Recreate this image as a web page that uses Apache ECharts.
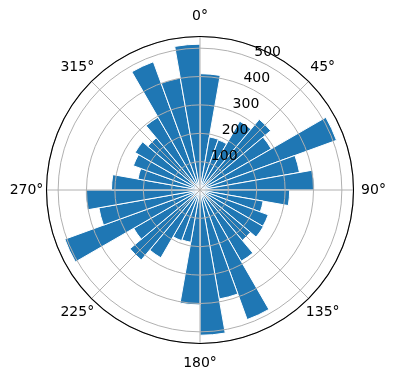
<!DOCTYPE html>
<html>
<head>
<meta charset="utf-8">
<script src="https://cdn.jsdelivr.net/npm/echarts@6/dist/echarts.min.js"></script>
<style>
html,body{margin:0;padding:0;background:#fff;}
#chart{width:396px;height:380px;}
</style>
</head>
<body>
<div id="chart"></div>
<script>
// 36 sectors of 10 degrees, clockwise from north
var sectors = [];
for (var i = 0; i < 36; i++) sectors.push(i * 10);
var counts = [410, 190, 188, 280, 325, 290, 512, 356, 403,
              316, 226, 256, 258, 232, 290, 486, 390, 512,
              405, 187, 190, 276, 322, 270, 507, 362, 403,
              312, 222, 250, 264, 240, 296, 481, 401, 514];
var radialTicks = [100, 200, 300, 400, 500];
var angleTicks = [0, 45, 90, 135, 180, 225, 270, 315];
var rMax = 541;

var font = "DejaVu Sans";
var grid = '#b0b0b0';

// echarts anchors angle labels by side; fixed boxes keep the text centred like matplotlib
function angleLabel(v) {
	if (angleTicks.indexOf(v) < 0) return '';
	var key = (v % 180 === 0) ? 'tb' : (v % 90 === 0 ? 'lr' : 'dg');
	return '{' + key + '|' + v + '°}';
}

var myChart = echarts.init(document.getElementById('chart'));
var option = {
	animation: false,
	polar: [
		{center: [200, 190], radius: 153.5},
		{center: [200, 190], radius: 153.5},
		{center: [200, 190], radius: 153.5}
	],
	angleAxis: [
		// bars
		{polarIndex: 0, type: 'category', data: sectors, startAngle: 90, clockwise: true, boundaryGap: true, show: false},
		// grid, outline and degree labels
		{
			polarIndex: 1, type: 'value', min: 0, max: 360, interval: 45, startAngle: 90, clockwise: true, z: 10,
			axisLine: {show: true, lineStyle: {color: '#000', width: 1.1}},
			axisTick: {show: false},
			splitLine: {show: true, lineStyle: {color: grid, width: 1}},
			axisLabel: {
				margin: -8,
				fontFamily: font, fontSize: 14, color: '#000',
				formatter: angleLabel,
				rich: {
					tb: {lineHeight: 56, align: 'center', fontFamily: font, fontSize: 14},
					lr: {width: 56, align: 'center', fontFamily: font, fontSize: 14},
					dg: {width: 39.6, lineHeight: 39.6, align: 'center', fontFamily: font, fontSize: 14}
				}
			}
		},
		// only carries the radial labels at 22.5 deg
		{polarIndex: 2, type: 'value', min: 0, max: 360, startAngle: 67.5, clockwise: true, show: false}
	],
	radiusAxis: [
		{polarIndex: 0, type: 'value', min: 0, max: rMax, show: false},
		{
			polarIndex: 1, type: 'value', min: 0, max: rMax, interval: 100, z: 10,
			axisLine: {show: false}, axisTick: {show: false}, axisLabel: {show: false},
			splitLine: {show: true, lineStyle: {color: grid, width: 1}}
		},
		{
			polarIndex: 2, type: 'value', min: 0, max: rMax, interval: 100, z: 11,
			axisLine: {show: false}, axisTick: {show: false}, splitLine: {show: false},
			axisLabel: {
				margin: 0, align: 'left', verticalAlign: 'bottom',
				fontFamily: font, fontSize: 14, color: '#000',
				formatter: function (v) { return radialTicks.indexOf(v) >= 0 ? String(v) : ''; }
			}
		}
	],
	series: [{
		type: 'bar',
		coordinateSystem: 'polar',
		polarIndex: 0,
		barCategoryGap: '0%',
		itemStyle: {color: '#1f77b4', borderColor: '#fff', borderWidth: 1},
		data: counts
	}]
};
myChart.setOption(option);
</script>
</body>
</html>
